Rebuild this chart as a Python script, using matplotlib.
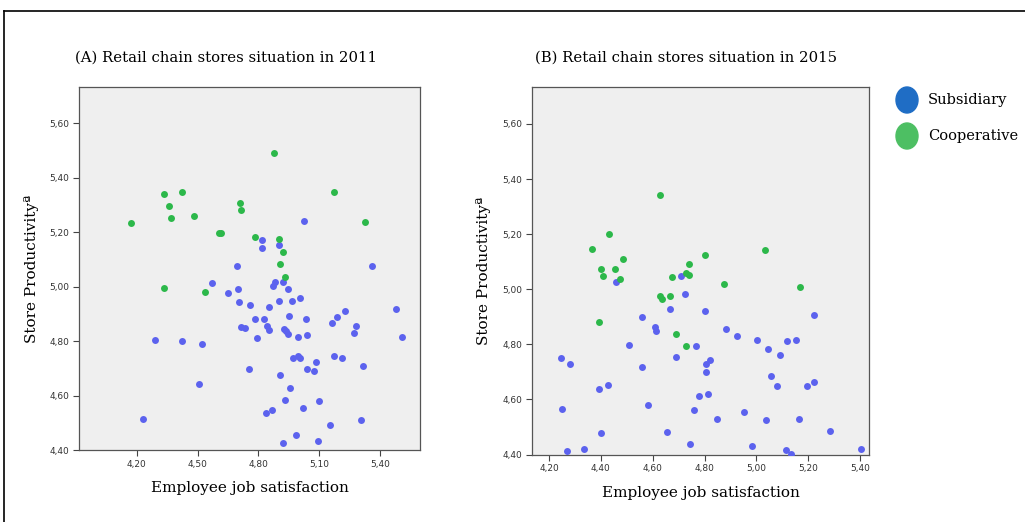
import matplotlib
matplotlib.use("Agg")
import matplotlib.pyplot as plt
from matplotlib.lines import Line2D
from matplotlib.patches import Ellipse
from matplotlib.ticker import FuncFormatter

# Panel A (2011)
a_sub_x = [5.027, 4.818, 4.818, 4.902, 4.695, 5.358, 4.573, 4.649, 4.701, 4.872,
           4.882, 4.922, 4.948, 4.706, 4.759, 4.854, 4.902, 4.965, 5.006, 5.229,
           5.479, 4.785, 4.830, 4.950, 5.037, 5.165, 5.188, 4.713, 4.734, 4.844,
           4.853, 4.928, 4.938, 4.948, 4.996, 5.040, 4.792, 5.282, 5.272, 5.509,
           4.292, 4.423, 4.524, 4.970, 4.994, 5.006, 5.086, 5.173, 5.211, 5.042,
           5.076, 5.316, 4.754, 4.907, 4.509, 4.955, 4.932, 5.022, 5.099, 4.838,
           4.869, 5.154, 5.307, 4.231, 4.986, 4.923, 5.096]
a_sub_y = [5.241, 5.170, 5.144, 5.155, 5.077, 5.076, 5.014, 4.976, 4.990, 5.003,
           5.017, 5.019, 4.990, 4.943, 4.932, 4.925, 4.947, 4.948, 4.960, 4.911,
           4.920, 4.883, 4.880, 4.892, 4.882, 4.866, 4.889, 4.851, 4.849, 4.855,
           4.841, 4.844, 4.839, 4.826, 4.815, 4.822, 4.810, 4.855, 4.829, 4.817,
           4.804, 4.800, 4.788, 4.738, 4.746, 4.738, 4.724, 4.744, 4.739, 4.696,
           4.692, 4.708, 4.697, 4.676, 4.642, 4.629, 4.583, 4.555, 4.580, 4.536,
           4.547, 4.493, 4.510, 4.513, 4.454, 4.427, 4.433]
a_coop_x = [4.879, 4.333, 4.422, 4.359, 4.368, 4.172, 4.484, 4.708, 4.716, 5.173,
            5.326, 4.606, 4.614, 4.782, 4.902, 4.922, 4.905, 4.930, 4.333, 4.535]
a_coop_y = [5.492, 5.339, 5.349, 5.295, 5.254, 5.236, 5.259, 5.306, 5.283, 5.350,
            5.237, 5.197, 5.199, 5.181, 5.177, 5.128, 5.085, 5.035, 4.996, 4.982]

# Panel B (2015)
b_sub_x = [4.710, 4.458, 4.723, 4.667, 4.800, 4.557, 5.223, 4.608, 4.612, 4.882,
           4.926, 5.001, 5.118, 5.153, 4.509, 4.768, 5.046, 5.092, 4.245, 4.689,
           4.280, 4.820, 4.805, 4.559, 4.805, 5.055, 4.429, 4.393, 5.079, 5.195,
           5.223, 4.812, 4.778, 4.582, 4.250, 4.758, 4.953, 4.849, 5.036, 5.163,
           4.401, 4.654, 5.286, 4.744, 4.983, 5.113, 5.132, 4.271, 4.333, 5.403]
b_sub_y = [5.049, 5.025, 4.983, 4.928, 4.921, 4.900, 4.907, 4.863, 4.849, 4.856,
           4.829, 4.815, 4.811, 4.815, 4.797, 4.793, 4.782, 4.760, 4.750, 4.755,
           4.728, 4.743, 4.727, 4.718, 4.698, 4.684, 4.653, 4.637, 4.648, 4.650,
           4.663, 4.621, 4.611, 4.580, 4.566, 4.560, 4.553, 4.530, 4.526, 4.530,
           4.478, 4.482, 4.484, 4.439, 4.431, 4.417, 4.401, 4.413, 4.419, 4.421]
b_coop_x = [4.630, 4.433, 4.364, 4.800, 5.032, 4.487, 4.741, 4.400, 4.455, 4.407,
            4.474, 4.730, 4.739, 4.675, 4.876, 5.168, 4.629, 4.635, 4.666, 4.391,
            4.689, 4.730]
b_coop_y = [5.343, 5.200, 5.147, 5.124, 5.141, 5.110, 5.091, 5.074, 5.074, 5.049,
            5.038, 5.060, 5.050, 5.043, 5.020, 5.008, 4.976, 4.964, 4.974, 4.880,
            4.838, 4.793]

a_xticks = [4.20, 4.50, 4.80, 5.10, 5.40]
b_xticks = [4.20, 4.40, 4.60, 4.80, 5.00, 5.20, 5.40]
yticks = [4.40, 4.60, 4.80, 5.00, 5.20, 5.40, 5.60]

titles = ["(A) Retail chain stores situation in 2011",
          "(B) Retail chain stores situation in 2015"]
legend_labels = ["Subsidiary", "Cooperative"]

SUB = "#5c62ee"
COOP = "#2cb84a"
SERIF = "DejaVu Serif"

fig = plt.figure(figsize=(10.25, 5.22), dpi=100)

# SPSS style decimal comma
comma = FuncFormatter(lambda v, p: ("%.2f" % v).replace(".", ","))


def panel(rect, sx, sy, cx, cy, xticks, xlim, title, title_x):
    ax = fig.add_axes(rect)
    ax.set_facecolor("#efefef")
    ax.scatter(sx, sy, s=25, color=SUB, linewidths=0, zorder=3)
    ax.scatter(cx, cy, s=25, color=COOP, linewidths=0, zorder=3)
    ax.set_xlim(*xlim)
    ax.set_ylim(4.40, 5.733)
    ax.set_xticks(xticks)
    ax.set_yticks(yticks)
    ax.xaxis.set_major_formatter(comma)
    ax.yaxis.set_major_formatter(comma)
    ax.tick_params(direction="out", length=4, width=0.8, color="#444444",
                   labelsize=6.5, labelcolor="#333333", pad=3)
    for sp in ax.spines.values():
        sp.set_color("#555555")
        sp.set_linewidth(0.9)
    ax.set_ylabel("Store Productivityª", family=SERIF, fontsize=11, labelpad=8)
    ax.set_xlabel("Employee job satisfaction", family=SERIF, fontsize=11,
                  labelpad=9)
    fig.text(title_x, 1 - 58 / 522, title, family=SERIF, fontsize=10.7,
             ha="left", va="center")
    return ax


panel([0.0774, 0.1379, 0.3324, 0.6949], a_sub_x, a_sub_y, a_coop_x, a_coop_y,
      a_xticks, (3.917, 5.597), titles[0], 75 / 1025)
panel([0.519, 0.1293, 0.3288, 0.7035], b_sub_x, b_sub_y, b_coop_x, b_coop_y,
      b_xticks, (4.134, 5.435), titles[1], 535 / 1025)

# legend
for i, (lab, col) in enumerate(zip(legend_labels, ["#1f6dc5", "#4dbf63"])):
    yy = 1 - (100 + 36 * i) / 522
    fig.add_artist(Ellipse((907 / 1025, yy), 22 / 1025, 26 / 522,
                           transform=fig.transFigure, color=col))
    fig.text(928 / 1025, yy, lab, family=SERIF, fontsize=10.5, va="center")

# outer frame lines (top and left)
fig.add_artist(Line2D([4 / 1025, 1], [1 - 11 / 522, 1 - 11 / 522],
                      transform=fig.transFigure, color="black", lw=1.2))
fig.add_artist(Line2D([4 / 1025, 4 / 1025], [0, 1 - 11 / 522],
                      transform=fig.transFigure, color="black", lw=1.2))

fig.savefig("out.png", dpi=100)
